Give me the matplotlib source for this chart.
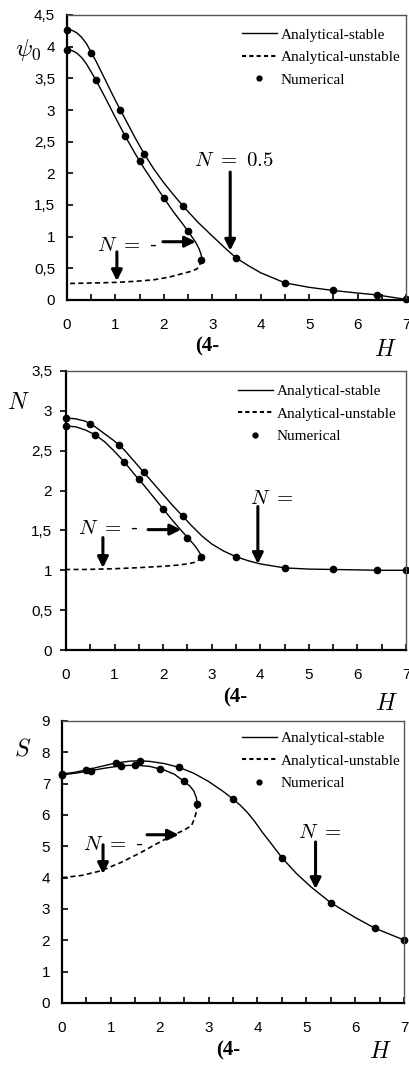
import numpy as np
import matplotlib
matplotlib.use("Agg")
from matplotlib import pyplot as plt
from matplotlib import ticker
from matplotlib.lines import Line2D

plt.rcParams['mathtext.fontset'] = 'cm'
plt.rcParams['font.family'] = ['Liberation Sans', 'DejaVu Sans']

# ---- panel 1 : psi_0 ----
psi_line_a_h = [0, 0.1, 0.2, 0.3, 0.4, 0.5, 0.6, 0.8, 1.0, 1.2, 1.4, 1.6, 1.8, 2.0, 2.2, 2.4, 2.7, 3.0, 3.25, 3.5, 3.75, 4.0, 4.5, 5.0, 5.5, 6.0, 6.4, 7.0]
psi_line_a = [4.27, 4.26, 4.22, 4.15, 4.05, 3.91, 3.77, 3.46, 3.15, 2.86, 2.57, 2.30, 2.06, 1.85, 1.66, 1.48, 1.23, 1.01, 0.83, 0.66, 0.54, 0.43, 0.27, 0.20, 0.15, 0.11, 0.08, 0.01]
psi_line_b_h = [0, 0.1, 0.2, 0.3, 0.4, 0.6, 0.8, 1.0, 1.2, 1.4, 1.6, 1.8, 2.0, 2.2, 2.4, 2.55, 2.65, 2.72, 2.76, 2.78, 2.77]
psi_line_b = [3.95, 3.94, 3.90, 3.83, 3.73, 3.47, 3.18, 2.88, 2.59, 2.32, 2.07, 1.84, 1.61, 1.39, 1.19, 1.03, 0.92, 0.82, 0.74, 0.68, 0.63]
psi_unst_h = [2.77, 2.74, 2.68, 2.55, 2.35, 2.1, 1.8, 1.5, 1.2, 0.9, 0.6, 0.3, 0]
psi_unst = [0.63, 0.55, 0.49, 0.45, 0.41, 0.36, 0.32, 0.30, 0.285, 0.275, 0.27, 0.265, 0.26]
psi_num_a_h = [0, 0.5, 1.1, 1.6, 2.4, 3.5, 4.5, 5.5, 6.4, 7.0]
psi_num_a = [4.27, 3.90, 3.0, 2.31, 1.48, 0.66, 0.27, 0.15, 0.08, 0.01]
psi_num_b_h = [0, 0.6, 1.2, 1.5, 2.0, 2.5, 2.77]
psi_num_b = [3.95, 3.47, 2.59, 2.19, 1.61, 1.09, 0.63]

# ---- panel 2 : N ----
n_line_a_h = [0, 0.2, 0.4, 0.6, 0.8, 1.0, 1.2, 1.4, 1.6, 1.8, 2.0, 2.2, 2.4, 2.6, 2.8, 3.0, 3.25, 3.5, 3.75, 4.0, 4.5, 5.0, 5.5, 6.0, 6.4, 7.0]
n_line_a = [2.91, 2.90, 2.87, 2.80, 2.71, 2.62, 2.51, 2.37, 2.23, 2.09, 1.95, 1.81, 1.68, 1.55, 1.43, 1.33, 1.24, 1.17, 1.12, 1.08, 1.03, 1.015, 1.01, 1.005, 1.0, 1.0]
n_line_b_h = [0, 0.2, 0.4, 0.6, 0.8, 1.0, 1.2, 1.4, 1.6, 1.8, 2.0, 2.2, 2.4, 2.55, 2.65, 2.72, 2.76, 2.78, 2.77]
n_line_b = [2.81, 2.80, 2.76, 2.70, 2.61, 2.49, 2.36, 2.21, 2.07, 1.92, 1.77, 1.62, 1.48, 1.38, 1.31, 1.25, 1.21, 1.18, 1.17]
n_unst_h = [2.77, 2.74, 2.65, 2.5, 2.3, 2.0, 1.7, 1.4, 1.0, 0.7, 0.4, 0]
n_unst = [1.17, 1.13, 1.10, 1.08, 1.065, 1.05, 1.04, 1.03, 1.02, 1.015, 1.01, 1.01]
n_num_a_h = [0, 0.5, 1.1, 1.6, 2.4, 3.5, 4.5, 5.5, 6.4, 7.0]
n_num_a = [2.91, 2.84, 2.57, 2.23, 1.68, 1.17, 1.03, 1.01, 1.0, 1.0]
n_num_b_h = [0, 0.6, 1.2, 1.5, 2.0, 2.5, 2.77]
n_num_b = [2.81, 2.70, 2.36, 2.14, 1.77, 1.41, 1.17]

# ---- panel 3 : S ----
s_line_a_h = [0, 0.25, 0.5, 0.8, 1.1, 1.4, 1.6, 1.8, 2.1, 2.4, 2.7, 3.0, 3.3, 3.5, 3.65, 3.8, 3.95, 4.1, 4.3, 4.5, 4.8, 5.1, 5.5, 6.0, 6.4, 7.0]
s_line_a = [7.31, 7.36, 7.44, 7.55, 7.66, 7.72, 7.73, 7.71, 7.64, 7.52, 7.33, 7.07, 6.75, 6.51, 6.31, 6.07, 5.78, 5.45, 5.05, 4.64, 4.13, 3.70, 3.20, 2.73, 2.39, 2.01]
s_line_b_h = [0, 0.3, 0.6, 0.9, 1.2, 1.5, 1.8, 2.1, 2.3, 2.5, 2.62, 2.7, 2.75, 2.77]
s_line_b = [7.28, 7.34, 7.42, 7.50, 7.57, 7.59, 7.55, 7.43, 7.30, 7.07, 6.92, 6.76, 6.55, 6.35]
s_unst_h = [2.77, 2.75, 2.71, 2.65, 2.5, 2.2, 1.9, 1.6, 1.2, 0.8, 0.4, 0]
s_unst = [6.35, 6.1, 5.88, 5.66, 5.52, 5.30, 5.05, 4.79, 4.48, 4.22, 4.07, 4.0]
s_num_a_h = [0, 0.5, 1.1, 1.6, 2.4, 3.5, 4.5, 5.5, 6.4, 7.0]
s_num_a = [7.31, 7.44, 7.66, 7.73, 7.52, 6.51, 4.64, 3.2, 2.39, 2.01]
s_num_b_h = [0, 0.6, 1.2, 1.5, 2.0, 2.5, 2.77]
s_num_b = [7.28, 7.42, 7.57, 7.59, 7.47, 7.07, 6.35]

legend_labels = ['Analytical-stable', 'Analytical-unstable', 'Numerical']

W, H = 409, 1066
fig = plt.figure(figsize=(W / 100, H / 100), dpi=100)


def px_axes(l, t, r, b):
    return fig.add_axes([l / W, 1 - b / H, (r - l) / W, (b - t) / H])


def arrow(ax, start, tip):
    ax.annotate('', xy=tip, xytext=start,
                arrowprops=dict(arrowstyle='-|>', lw=2.2, color='k',
                                mutation_scale=16, shrinkA=0, shrinkB=0))


def panel(ax, ymax, ystep, a, b, unst, num_a, num_b, ytick_dir, leg_xy):
    ax.plot(a[0], a[1], '-', color='k', lw=1.0)
    ax.plot(b[0], b[1], '-', color='k', lw=1.0)
    ax.plot(unst[0], unst[1], color='k', lw=1.2, ls=(0, (3, 2)))
    ax.plot(num_a[0], num_a[1], 'o', color='k', ms=4.5, clip_on=False)
    ax.plot(num_b[0], num_b[1], 'o', color='k', ms=4.5, clip_on=False)
    ax.set_xlim(0, 7)
    ax.set_ylim(0, ymax)
    ax.xaxis.set_major_locator(ticker.MultipleLocator(1))
    ax.xaxis.set_minor_locator(ticker.MultipleLocator(0.5))
    ax.yaxis.set_major_locator(ticker.MultipleLocator(ystep))
    fmt = ticker.FuncFormatter(lambda v, p: ('%g' % v).replace('.', ','))
    ax.yaxis.set_major_formatter(fmt)
    ax.tick_params(axis='x', which='both', direction='in', length=4, width=1.2,
                   pad=13, labelsize=11, top=False)
    ax.tick_params(axis='y', which='both', direction=ytick_dir, length=4, width=1.2,
                   pad=8.5 if ytick_dir == 'in' else 6, labelsize=11, right=False)
    for s in ['left', 'bottom']:
        ax.spines[s].set_linewidth(1.6)
        ax.spines[s].set_color('k')
    for s in ['top', 'right']:
        ax.spines[s].set_linewidth(1.0)
        ax.spines[s].set_color('#555555')
    handles = [Line2D([], [], color='k', lw=1.0),
               Line2D([], [], color='k', lw=1.5, ls=(0, (2, 1.5))),
               Line2D([], [], color='k', ls='', marker='o', ms=3.5)]
    ax.legend(handles, legend_labels, loc='upper left', bbox_to_anchor=leg_xy,
              frameon=False, borderpad=0, borderaxespad=0, handlelength=2.3,
              handletextpad=0.25, labelspacing=0.58,
              prop={'family': 'Liberation Serif', 'size': 11})


# top panel
ax1 = px_axes(67, 15, 406, 300)
panel(ax1, 4.5, 0.5, (psi_line_a_h, psi_line_a), (psi_line_b_h, psi_line_b),
      (psi_unst_h, psi_unst), (psi_num_a_h, psi_num_a), (psi_num_b_h, psi_num_b),
      'in', (0.515, 0.955))
ax1.text(2.62, 2.2, r'$N\ =\ 0.5$', fontsize=15, va='center', ha='left')
arrow(ax1, (3.37, 2.02), (3.37, 0.78))
ax1.text(0.62, 0.86, r'$N\ =$ -', fontsize=15, va='center', ha='left')
arrow(ax1, (1.98, 0.92), (2.66, 0.92))
arrow(ax1, (1.03, 0.76), (1.03, 0.30))

# middle panel
ax2 = px_axes(66, 371, 406, 650)
panel(ax2, 3.5, 0.5, (n_line_a_h, n_line_a), (n_line_b_h, n_line_b),
      (n_unst_h, n_unst), (n_num_a_h, n_num_a), (n_num_b_h, n_num_b),
      'out', (0.505, 0.952))
ax2.text(3.79, 1.9, r'$N\ =$', fontsize=15, va='center', ha='left')
arrow(ax2, (3.95, 1.80), (3.95, 1.08))
ax2.text(0.25, 1.53, r'$N\ =$ -', fontsize=15, va='center', ha='left')
arrow(ax2, (1.69, 1.51), (2.37, 1.51))
arrow(ax2, (0.76, 1.41), (0.76, 1.03))

# bottom panel
ax3 = px_axes(62, 721, 404, 1003)
panel(ax3, 9, 1, (s_line_a_h, s_line_a), (s_line_b_h, s_line_b),
      (s_unst_h, s_unst), (s_num_a_h, s_num_a), (s_num_b_h, s_num_b),
      'in', (0.525, 0.963))
ax3.text(4.83, 5.45, r'$N\ =$', fontsize=15, va='center', ha='left')
arrow(ax3, (5.19, 5.14), (5.19, 3.64))
ax3.text(0.43, 5.05, r'$N\ =$ -', fontsize=15, va='center', ha='left')
arrow(ax3, (1.74, 5.37), (2.39, 5.37))
arrow(ax3, (0.84, 5.05), (0.84, 4.12))

# axis labels, placed in figure pixels
for (x, y, s, fs) in [(28, 50, r'$\psi_0$', 18), (18, 403, r'$N$', 17), (23, 750, r'$S$', 17)]:
    fig.text(x / W, 1 - y / H, s, fontsize=fs, ha='center', va='center')
for (x, y) in [(385, 350), (386, 704), (380, 1052)]:
    fig.text(x / W, 1 - y / H, r'$H$', fontsize=17, ha='center', va='center')
for (x, y) in [(207, 346), (235, 697), (228, 1050)]:
    fig.text(x / W, 1 - y / H, '(4-', fontsize=15, fontweight='bold',
             family='Liberation Serif', ha='center', va='center')

fig.savefig('out.png', dpi=100)
